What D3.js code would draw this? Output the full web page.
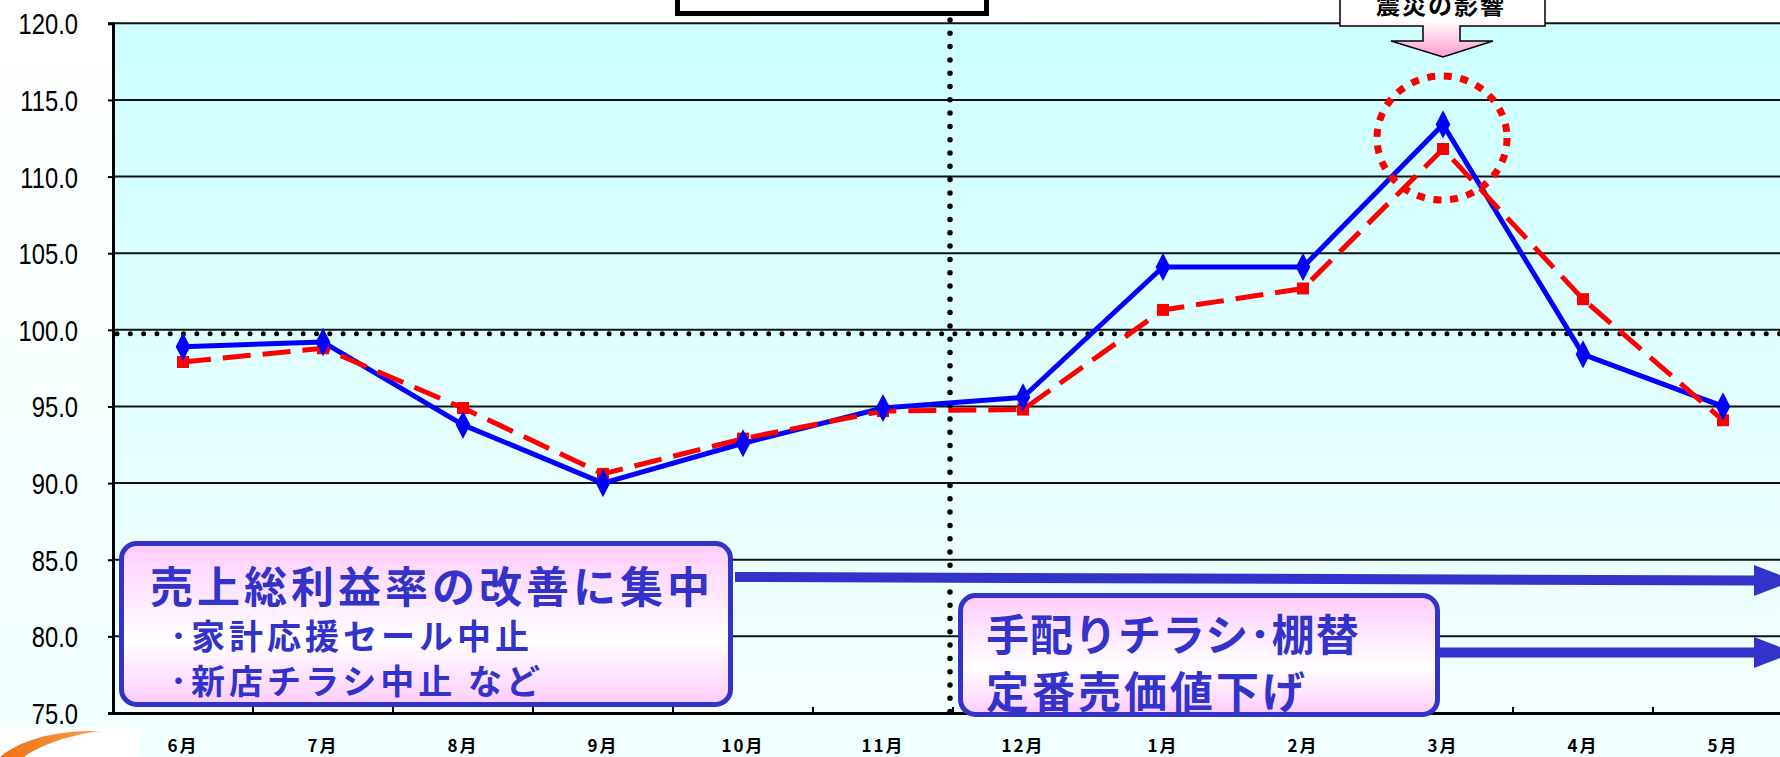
<!DOCTYPE html>
<html>
<head>
<meta charset="utf-8">
<script src="https://cdn.jsdelivr.net/npm/d3@7"></script>
<style>
  html, body { margin: 0; padding: 0; overflow: hidden; }
  body { width: 1780px; height: 757px; }
  .ylab { font-family: "Liberation Sans", Arial, sans-serif; font-size: 29px; fill: #000; }
  .xlab { font-family: "Noto Sans CJK JP", sans-serif; font-size: 17px; font-weight: bold; fill: #000; letter-spacing: 2px; }
  .box-text { font-family: "Noto Sans CJK JP", sans-serif; font-weight: bold; fill: #3333cc; }
</style>
</head>
<body>
<script>
var months = ["6月","7月","8月","9月","10月","11月","12月","1月","2月","3月","4月","5月"];
var blueValues = [98.9, 99.2, 93.8, 90.0, 92.6, 94.9, 95.6, 104.1, 104.1, 113.4, 98.4, 95.0];
var redValues  = [97.9, 98.8, 94.9, 90.6, 92.9, 94.7, 94.8, 101.3, 102.7, 111.8, 102.0, 94.1];
var yTicks = [75, 80, 85, 90, 95, 100, 105, 110, 115, 120];

var W = 1780, H = 757;
var plotLeft = 113, plotTop = 23.3, plotBottom = 713, band = 140;

var x = d3.scaleBand().domain(months).range([plotLeft, plotLeft + band * months.length]).padding(0);
var y = d3.scaleLinear().domain([75, 120]).range([plotBottom, plotTop]);

var svg = d3.select("body").append("svg").attr("width", W).attr("height", H);
var defs = svg.append("defs");

function vGrad(id, stops) {
  var g = defs.append("linearGradient").attr("id", id).attr("x1", 0).attr("y1", 0).attr("x2", 0).attr("y2", 1);
  stops.forEach(function(s){ g.append("stop").attr("offset", s[0]).attr("stop-color", s[1]); });
}
vGrad("pageBg", [["0%", "#ffffff"], ["100%", "#f0ffff"]]);
vGrad("plotBg", [["0%", "#ccffff"], ["100%", "#f5ffff"]]);
vGrad("boxBg", [["0%", "#ffccff"], ["60%", "#ffffff"], ["100%", "#ffccff"]]);
vGrad("noteBg", [["0%", "#ffffff"], ["45%", "#ffffff"], ["100%", "#ff99cc"]]);

var logoG = defs.append("linearGradient").attr("id", "logoG").attr("x1", 0).attr("y1", 0).attr("x2", 1).attr("y2", 0);
logoG.append("stop").attr("offset", "0%").attr("stop-color", "#f07010");
logoG.append("stop").attr("offset", "100%").attr("stop-color", "#f8a050");

svg.append("rect").attr("width", W).attr("height", H).attr("fill", "url(#pageBg)");

// plot area
svg.append("rect")
  .attr("x", plotLeft).attr("y", plotTop)
  .attr("width", W - plotLeft).attr("height", plotBottom - plotTop)
  .attr("fill", "url(#plotBg)");

// grid lines
svg.append("g").selectAll("line").data(yTicks.filter(function(d){ return d > 75; })).enter().append("line")
  .attr("x1", plotLeft).attr("x2", W)
  .attr("y1", function(d){ return y(d); }).attr("y2", function(d){ return y(d); })
  .attr("stroke", "#111").attr("stroke-width", 2);

// y axis (labels are a condensed face, so squeeze them horizontally)
var squeeze = 0.82;
var yAxis = svg.append("g").attr("transform", "translate(" + plotLeft + ",0)")
  .call(d3.axisLeft(y).tickValues(yTicks).tickSize(5).tickFormat(d3.format(".1f")));
yAxis.select(".domain").attr("stroke", "#000").attr("stroke-width", 3);
yAxis.selectAll(".tick line").attr("stroke", "#000").attr("stroke-width", 2);
yAxis.selectAll(".tick text").attr("class", "ylab")
  .attr("x", -35 / squeeze).attr("dy", "0.36em")
  .attr("transform", "scale(" + squeeze + ",1)")
  .attr("font-size", null).attr("font-family", null);

// x axis
var xAxis = svg.append("g").attr("transform", "translate(0," + plotBottom + ")")
  .call(d3.axisBottom(x).tickSize(0).tickPadding(36));
xAxis.select(".domain").attr("stroke", "#000").attr("stroke-width", 3);
xAxis.selectAll(".tick text").attr("class", "xlab").attr("font-size", null).attr("font-family", null).attr("dy", "0.2em");
svg.append("g").selectAll("line").data(months.slice(1)).enter().append("line")
  .attr("x1", function(d){ return x(d); }).attr("x2", function(d){ return x(d); })
  .attr("y1", plotBottom).attr("y2", plotBottom - 6)
  .attr("stroke", "#000").attr("stroke-width", 2);

// dotted 100 line
svg.append("line")
  .attr("x1", plotLeft + 4).attr("x2", W)
  .attr("y1", y(100) + 4).attr("y2", y(100) + 4)
  .attr("stroke", "#000").attr("stroke-width", 5)
  .attr("stroke-linecap", "round").attr("stroke-dasharray", "0 13.3");

// vertical dotted divider between 11月 and 12月
var divX = x("12月") - 3;
svg.append("line")
  .attr("x1", divX).attr("x2", divX)
  .attr("y1", 20).attr("y2", 716)
  .attr("stroke", "#000").attr("stroke-width", 5.5)
  .attr("stroke-linecap", "round").attr("stroke-dasharray", "0 13.3");

// top box (cut off)
svg.append("rect")
  .attr("x", 677.5).attr("y", -30).attr("width", 309).attr("height", 43.5)
  .attr("fill", "#fff").attr("stroke", "#000").attr("stroke-width", 5);

// arrows
function arrow(x1, y1, x2, y2, tipX) {
  var g = svg.append("g");
  g.append("line").attr("x1", x1).attr("y1", y1).attr("x2", x2).attr("y2", y2)
    .attr("stroke", "#3333cc").attr("stroke-width", 10);
  g.append("polygon")
    .attr("points", [[x2, y2 - 15.5], [tipX, y2], [x2, y2 + 15.5]].join(" "))
    .attr("fill", "#3333cc");
}
arrow(735, 577, 1754, 580.5, 1794);
arrow(1440, 652.5, 1754, 652.5, 1794);

// text boxes
function textBox(bx, by, bw, bh, lines) {
  var g = svg.append("g");
  g.append("rect").attr("x", bx).attr("y", by).attr("width", bw).attr("height", bh)
    .attr("rx", 15).attr("ry", 15)
    .attr("fill", "url(#boxBg)").attr("stroke", "#3333cc").attr("stroke-width", 5);
  g.selectAll("text").data(lines).enter().append("text")
    .attr("class", "box-text")
    .attr("x", function(d){ return d.x; }).attr("y", function(d){ return d.y; })
    .attr("font-size", function(d){ return d.size; })
    .attr("letter-spacing", function(d){ return d.ls; })
    .text(function(d){ return d.t; });
}
textBox(121.5, 543.5, 609, 161, [
  {t: "売上総利益率の改善に集中", x: 150, y: 603, size: 43, ls: 4},
  {t: "･家計応援セール中止", x: 170, y: 649, size: 34, ls: 4},
  {t: "･新店チラシ中止 など", x: 170, y: 694, size: 34, ls: 4}
]);
textBox(960.5, 595.5, 477, 119, [
  {t: "手配りチラシ･棚替", x: 986, y: 651, size: 43, ls: 1},
  {t: "定番売価値下げ", x: 986, y: 708, size: 43, ls: 3}
]);

// series lines
var line = d3.line()
  .x(function(d, i){ return x(months[i]) + x.bandwidth() / 2; })
  .y(function(d){ return y(d); });

svg.append("path").datum(blueValues).attr("d", line)
  .attr("fill", "none").attr("stroke", "#0000ff").attr("stroke-width", 5)
  .attr("stroke-linejoin", "round");
svg.append("path").datum(redValues).attr("d", line)
  .attr("fill", "none").attr("stroke", "#ff0000").attr("stroke-width", 5)
  .attr("stroke-dasharray", "28 12");

svg.append("g").selectAll("rect").data(redValues).enter().append("rect")
  .attr("x", function(d, i){ return x(months[i]) + x.bandwidth() / 2 - 6; })
  .attr("y", function(d){ return y(d) - 6; })
  .attr("width", 12).attr("height", 12)
  .attr("fill", "#ff0000");

svg.append("g").selectAll("path").data(blueValues).enter().append("path")
  .attr("d", d3.symbol().type(d3.symbolDiamond).size(230))
  .attr("transform", function(d, i){ return "translate(" + (x(months[i]) + x.bandwidth() / 2) + "," + y(d) + ") scale(0.9,1)"; })
  .attr("fill", "#0000ff");

// red dotted circle around March
var cx = x("3月") + x.bandwidth() / 2 - 1;
svg.append("ellipse")
  .attr("cx", cx).attr("cy", 138).attr("rx", 65).attr("ry", 62)
  .attr("fill", "none").attr("stroke", "#ff0000").attr("stroke-width", 7)
  .attr("stroke-dasharray", "8 8.7");

// 震災の影響 callout
var note = svg.append("g");
note.append("path")
  .attr("d", "M1340,-10 L1545,-10 L1545,26 L1460,26 L1460,41 L1493,41 L1443,57 L1391,41 L1423,41 L1423,26 L1340,26 Z")
  .attr("fill", "url(#noteBg)").attr("stroke", "#000").attr("stroke-width", 1.5);
note.append("text")
  .attr("x", 1441).attr("y", 14).attr("text-anchor", "middle")
  .attr("font-family", "'Noto Sans CJK JP', sans-serif").attr("font-weight", "bold")
  .attr("font-size", 24).attr("letter-spacing", 2).attr("fill", "#000")
  .text("震災の影響");

// logo corner
svg.append("rect").attr("x", 0).attr("y", 727).attr("width", 140).attr("height", 30).attr("fill", "#fff");
svg.append("path")
  .attr("d", "M0,757 C20,740 55,730 100,731 C70,735 40,745 24,757 Z")
  .attr("fill", "url(#logoG)");
</script>
</body>
</html>
